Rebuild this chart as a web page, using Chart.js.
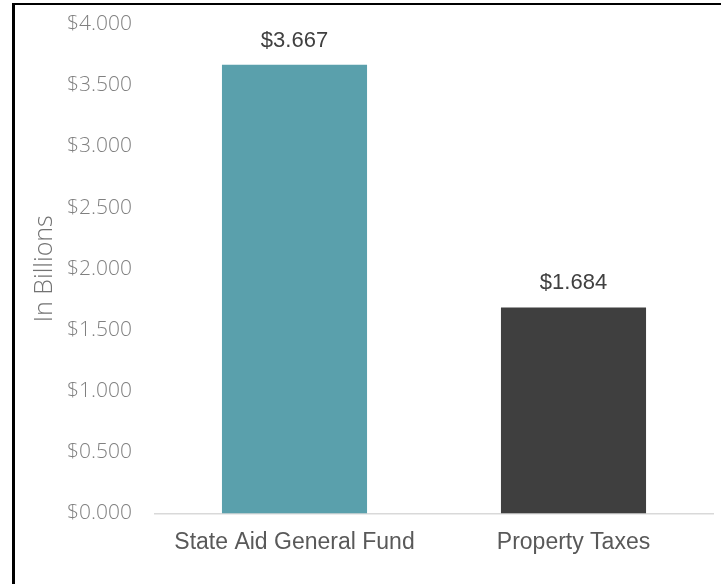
<!DOCTYPE html>
<html>
<head>
<meta charset="utf-8">
<script src="https://cdn.jsdelivr.net/npm/chart.js@4.4.1/dist/chart.umd.min.js"></script>
<style>
    body { margin: 0; background: #fff; overflow: hidden; }
    #moldura {
        position: absolute;
        left: 12px;
        top: 3px;
        width: 800px;
        height: 700px;
        border-left: 3px solid #000;
        border-top: 2px solid #000;
    }
    #div_canvas { position: absolute; left: 0; top: 0; width: 721px; height: 584px; }
</style>
</head>
<body>
<div id="moldura"></div>
<div id="div_canvas">
    <canvas id="grafico_receita" width="721" height="584"></canvas>
</div>
<script>
var categorias = ['State Aid General Fund', 'Property Taxes'];
var valores = [3.667, 1.684];
var cores_barras = ['#5aa0ac', '#3f3f3f'];
var ticks_y = [0, 0.5, 1, 1.5, 2, 2.5, 3, 3.5, 4];

// escreve o valor em cima de cada barra
var plugin_rotulos = {
    id: 'rotulos',
    afterDatasetsDraw(chart) {
        var ctx = chart.ctx;
        var meta = chart.getDatasetMeta(0);
        ctx.save();
        ctx.font = '22px "Liberation Sans", Arial, sans-serif';
        ctx.fillStyle = '#404040';
        ctx.textAlign = 'center';
        ctx.textBaseline = 'middle';
        for (var i = 0; i < meta.data.length; i++) {
            var barra = meta.data[i];
            ctx.fillText('$' + valores[i].toFixed(3), barra.x, barra.y - 24);
        }
        ctx.restore();
    }
};

var data = {
    labels: categorias,
    datasets: [{
        data: valores,
        backgroundColor: cores_barras,
        borderWidth: 0,
        barPercentage: 0.52,
        categoryPercentage: 1
    }]
};

var ctx = document.getElementById('grafico_receita');

new Chart(ctx, {
    type: 'bar',
    data: data,
    plugins: [plugin_rotulos],
    options: {
        responsive: false,
        animation: false,
        layout: {
            padding: { top: 24, right: 8, left: 0, bottom: 0 }
        },
        plugins: {
            legend: { display: false },
            tooltip: { enabled: false }
        },
        scales: {
            x: {
                grid: { display: false, drawTicks: false },
                border: { display: true, color: '#d9d9d9', width: 1.5 },
                ticks: {
                    padding: 15,
                    color: '#595959',
                    font: { family: '"Liberation Sans", Arial, sans-serif', size: 23 }
                },
                afterFit: function (escala) {
                    escala.height = 70.5;
                    escala.paddingLeft = 0;
                    escala.paddingRight = 0;
                }
            },
            y: {
                min: 0,
                max: 4,
                grid: { display: false, drawTicks: false },
                border: { display: false },
                afterBuildTicks: function (escala) {
                    escala.ticks = ticks_y.map(function (v) { return { value: v }; });
                },
                ticks: {
                    padding: 23,
                    color: '#808080',
                    font: { family: '"Open Sans", sans-serif', size: 21, weight: 300 },
                    callback: function (v) { return '$' + Number(v).toFixed(3); }
                },
                title: {
                    display: true,
                    text: 'In Billions',
                    color: '#737373',
                    padding: { top: 30, bottom: 0 },
                    font: { family: '"Open Sans", sans-serif', size: 25, weight: 300 }
                },
                afterFit: function (escala) {
                    escala.width = 155;
                    escala.paddingTop = 0;
                    escala.paddingBottom = 0;
                }
            }
        }
    }
});
</script>
</body>
</html>
